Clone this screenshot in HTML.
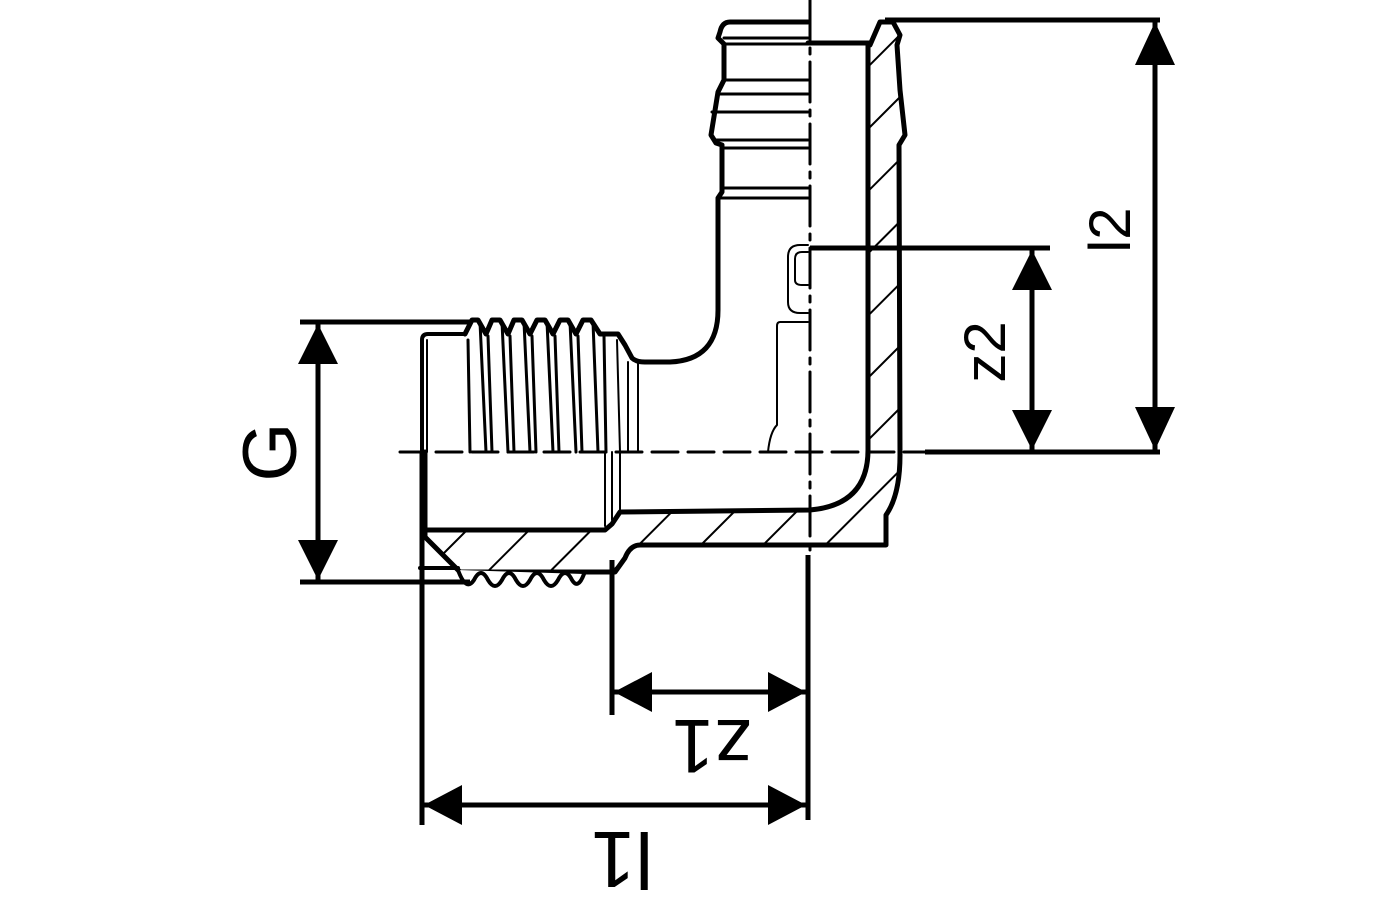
<!DOCTYPE html>
<html><head><meta charset="utf-8"><style>
html,body{margin:0;padding:0;background:#fff;}
svg{display:block;}
text{font-family:"Liberation Sans",sans-serif;fill:#000;}
</style></head><body>
<svg width="1400" height="900" viewBox="0 0 1400 900" xmlns="http://www.w3.org/2000/svg">
<defs>
<pattern id="h" patternUnits="userSpaceOnUse" width="44" height="44" patternTransform="rotate(45)">
<line x1="0" y1="0" x2="0" y2="44" stroke="#000" stroke-width="4"/>
</pattern>
</defs>
<g fill="none" stroke="#000" stroke-linejoin="round" stroke-linecap="round">
<path d="M870 45 L880 22 L893 22 L900 35 L897 45 L900 90 L905 135 L899 145 L900 455 Q900 495 886 515 L886 545 L860 545 Q840 545 820 545 L640 545 Q630 545 625 558 L615 572 L585 572 L460 572 L425 537 L425 530 L605 530 L612 524 L620 512 L810 510 Q868 505 868 450 L868 45 Z" fill="url(#h)" stroke-width="5"/>
<path d="M458 570 Q466 592 474 580 Q481 566 488 580 Q495 592 502 580 Q509 566 516 580 Q523 592 530 580 Q537 566 544 580 Q551 592 558 580 Q565 566 572 580 Q578 590 584 574" stroke-width="4" fill="#fff"/>
<line x1="420" y1="568" x2="458" y2="568" stroke-width="4"/>
<path d="M422 452 L422 340 Q422 334 428 334 L465 334" stroke-width="4"/>
<line x1="427" y1="340" x2="427" y2="452" stroke-width="2"/>
<path d="M465 334 L472 320 L478 320 L486 334 L492 320 L500 320 L508 334 L514 320 L522 320 L530 334 L537 320 L545 320 L553 334 L560 320 L568 320 L576 334 L583 320 L591 320 L600 334 L618 334 L625 345 L632 358 Q636 362 645 362 L670 362 Q718 360 718 310 L718 200" stroke-width="5"/>
<g stroke-width="3">
<line x1="468" y1="340" x2="470" y2="452"/><line x1="480" y1="322" x2="486" y2="452"/>
<line x1="488" y1="336" x2="492" y2="452"/><line x1="502" y1="322" x2="508" y2="452"/>
<line x1="510" y1="336" x2="514" y2="452"/><line x1="524" y1="322" x2="530" y2="452"/>
<line x1="532" y1="336" x2="536" y2="452"/><line x1="547" y1="322" x2="553" y2="452"/>
<line x1="555" y1="336" x2="559" y2="452"/><line x1="570" y1="322" x2="576" y2="452"/>
<line x1="578" y1="336" x2="582" y2="452"/><line x1="593" y1="322" x2="598" y2="452"/>
<line x1="604" y1="336" x2="606" y2="452"/>
</g>
<g stroke-width="2">
<line x1="617" y1="340" x2="620" y2="452"/><line x1="628" y1="362" x2="628" y2="452"/><line x1="638" y1="362" x2="638" y2="452"/>
<line x1="605" y1="452" x2="605" y2="526"/><line x1="612" y1="452" x2="612" y2="520"/><line x1="620" y1="452" x2="620" y2="512"/>
</g>
<line x1="425" y1="452" x2="425" y2="530" stroke-width="5"/>
<path d="M808 22 L730 22 Q722 22 720 32 L718 38 L724 44 L724 80 L718 92 L711 135 L716 143 L722 145 L722 192 L718 198 L718 210" stroke-width="5"/>
<g stroke-width="3">
<line x1="724" y1="38" x2="808" y2="38"/><line x1="724" y1="44" x2="808" y2="44"/>
<line x1="724" y1="80" x2="808" y2="80"/><line x1="720" y1="94" x2="808" y2="94"/>
<line x1="712" y1="112" x2="808" y2="112"/><line x1="716" y1="140" x2="808" y2="140"/>
<line x1="722" y1="148" x2="808" y2="148"/><line x1="722" y1="188" x2="808" y2="188"/>
<line x1="720" y1="198" x2="808" y2="198"/>
</g>
<line x1="808" y1="43" x2="870" y2="43" stroke-width="5"/>
<path d="M808 245 L800 245 Q788 245 788 257 L788 302 Q788 313 800 313 L808 313" stroke-width="2"/>
<path d="M808 252 L802 252 Q795 252 795 259 L795 280 Q795 285 802 285 L808 285" stroke-width="2"/>
<path d="M808 322 L780 322 Q777 322 777 326 L777 425 Q770 432 768 452" stroke-width="2"/>
<line x1="810" y1="0" x2="810" y2="552" stroke-width="3" stroke-dasharray="40 8 6 8"/>
<line x1="400" y1="452" x2="925" y2="452" stroke-width="3" stroke-dasharray="26 10"/>
<g stroke-width="5" stroke-linecap="butt">
<line x1="885" y1="20" x2="1160" y2="20"/>
<line x1="925" y1="452" x2="1160" y2="452"/>
<line x1="1155" y1="20" x2="1155" y2="452"/>
<line x1="810" y1="248" x2="1050" y2="248"/>
<line x1="1032" y1="248" x2="1032" y2="452"/>
<line x1="300" y1="322" x2="470" y2="322"/>
<line x1="300" y1="582" x2="470" y2="582"/>
<line x1="318" y1="322" x2="318" y2="582"/>
<line x1="612" y1="560" x2="612" y2="715"/>
<line x1="808" y1="555" x2="808" y2="820"/>
<line x1="612" y1="692" x2="808" y2="692"/>
<line x1="422" y1="452" x2="422" y2="825"/>
<line x1="422" y1="805" x2="808" y2="805"/>
</g>
</g>
<g fill="#000">
<polygon points="1155,22 1135,65 1175,65"/><polygon points="1155,450 1135,407 1175,407"/>
<polygon points="1032,250 1012,290 1052,290"/><polygon points="1032,450 1012,410 1052,410"/>
<polygon points="318,324 298,364 338,364"/><polygon points="318,580 298,540 338,540"/>
<polygon points="614,692 652,672 652,712"/><polygon points="806,692 768,672 768,712"/>
<polygon points="424,805 462,785 462,825"/><polygon points="806,805 768,785 768,825"/>
</g>
<text x="1130" y="230" font-size="58" text-anchor="middle" transform="rotate(-90 1130 230)">l2</text>
<text x="1005" y="352" font-size="58" text-anchor="middle" transform="rotate(-90 1005 352)">z2</text>
<text x="296" y="452" font-size="76" text-anchor="middle" transform="rotate(-90 296 452)">G</text>
<text x="712" y="720" font-size="76" text-anchor="middle" transform="rotate(180 712 720)">z1</text>
<text x="622" y="832" font-size="80" text-anchor="middle" transform="rotate(180 622 832)">l1</text>
</svg>
</body></html>
